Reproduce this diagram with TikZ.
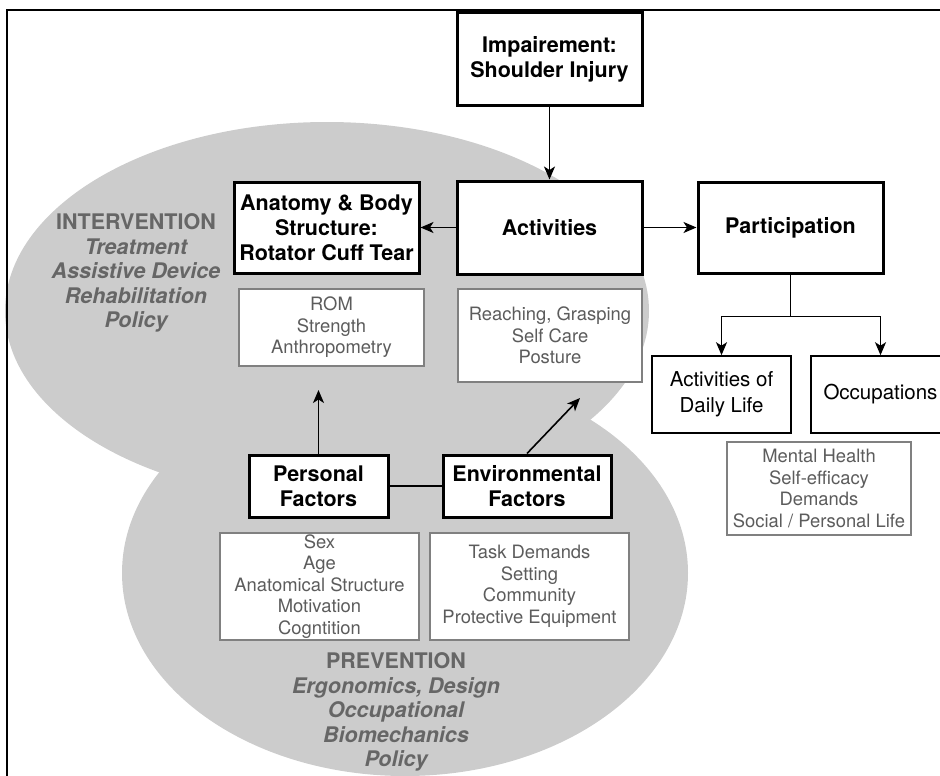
\documentclass[tikz,border=0pt]{standalone}
\usepackage{fontspec}
\setmainfont{TeX Gyre Heros}
\usetikzlibrary{arrows.meta, calc, backgrounds}
\definecolor{Blob}{RGB}{ 204, 204, 204 }
\definecolor{DGray}{RGB}{ 102, 102, 102 }
\definecolor{LGray}{RGB}{ 128, 128, 128 }
\definecolor{TGray}{RGB}{ 92, 92, 92 }

\begin{document}
\begin{tikzpicture}[x=1pt, y=-1pt,
    mainbox/.style={draw=black, line width=3pt, fill=white, inner sep=0pt, align=center,
        font=\fontsize{21.5}{25}\selectfont\bfseries},
    plainbox/.style={draw=black, line width=1.6pt, fill=white, inner sep=0pt, align=center,
        font=\fontsize{20.5}{26}\selectfont},
    listbox/.style={draw=LGray, line width=1.3pt, fill=white, inner sep=0pt, align=center,
        text=TGray, font=\fontsize{18.4}{21.5}\selectfont},
    zonetext/.style={text=DGray, align=center, inner sep=0pt,
        font=\fontsize{21.5}{24.5}\selectfont\bfseries},
    arr/.style={-{Stealth[length=13pt, width=11pt, inset=3.5pt]}, line width=1.6pt},
]
\useasboundingbox (0,0) rectangle (940,776);
\clip (0,0) rectangle (940,776);

% grey zones
\fill[Blob] (327,311) ellipse [x radius=322pt, y radius=189pt];
\fill[Blob] (405,573) ellipse [x radius=283pt, y radius=203pt];

% frame
\draw[line width=2pt] (7,10) rectangle (960,800);

\node[zonetext] (interv) at (136,273)
    {INTERVENTION\\ \itshape Treatment\\ \itshape Assistive Device\\ \itshape Rehabilitation\\ \itshape Policy};
\node[zonetext] (prev) at (396,712)
    {PREVENTION\\ \itshape Ergonomics, Design\\ \itshape Occupational\\ \itshape Biomechanics\\ \itshape Policy};

% top row
\node[mainbox, minimum width=185pt, minimum height=92pt] (imp) at (549.5,59) {Impairement:\\Shoulder Injury};
\node[mainbox, minimum width=185pt, minimum height=93pt] (act) at (549.5,227.5) {Activities};
\node[mainbox, minimum width=185pt, minimum height=91pt] (anat) at (326.5,227.5) {Anatomy \& Body\\Structure:\\Rotator Cuff Tear};
\node[mainbox, minimum width=185pt, minimum height=91pt] (part) at (790.5,227.5) {Participation};

\node[listbox, minimum width=185pt, minimum height=77pt] (rom) at (331.5,327.5) {ROM\\Strength\\Anthropometry};
\node[listbox, minimum width=184pt, minimum height=93pt] (reach) at (550,335.5) {Reaching, Grasping\\Self Care\\Posture};

% participation branches
\node[plainbox, minimum width=139pt, minimum height=77pt] (adl) at (721.5,394.5) {Activities of\\Daily Life};
\node[plainbox, minimum width=139pt, minimum height=77pt] (occ) at (880.5,394.5) {Occupations};
\node[listbox, minimum width=184pt, minimum height=93pt] (mental) at (819,488.5) {Mental Health\\Self-efficacy\\Demands\\Social / Personal Life};

% factors
\node[mainbox, minimum width=139pt, minimum height=62pt] (pers) at (318.5,486) {Personal\\Factors};
\node[mainbox, minimum width=168pt, minimum height=62pt] (env) at (527,486) {Environmental\\Factors};
\node[listbox, minimum width=199pt, minimum height=107pt] (sex) at (319.5,586.5) {Sex\\Age\\Anatomical Structure\\Motivation\\Cogntition};
\node[listbox, minimum width=199pt, minimum height=107pt] (task) at (529.5,586.5) {Task Demands\\Setting\\Community\\Protective Equipment};

\coordinate (romtip) at (318.5,390);
\coordinate (reachtip) at (580,398);

\draw[arr] (imp) -- (act);
\draw[arr] (act) -- (anat);
\draw[arr] (act) -- (part);
\draw[line width=1.6pt] (part.south) -- ++(0,42) coordinate (split);
\draw[arr] (split) -| (adl.north);
\draw[arr] (split) -| (occ.north);
\draw[arr] (pers.north) -- (romtip);
\draw[arr] (env.north) -- (reachtip);
\draw[line width=1.6pt] (pers) -- (env);
\end{tikzpicture}
\end{document}
